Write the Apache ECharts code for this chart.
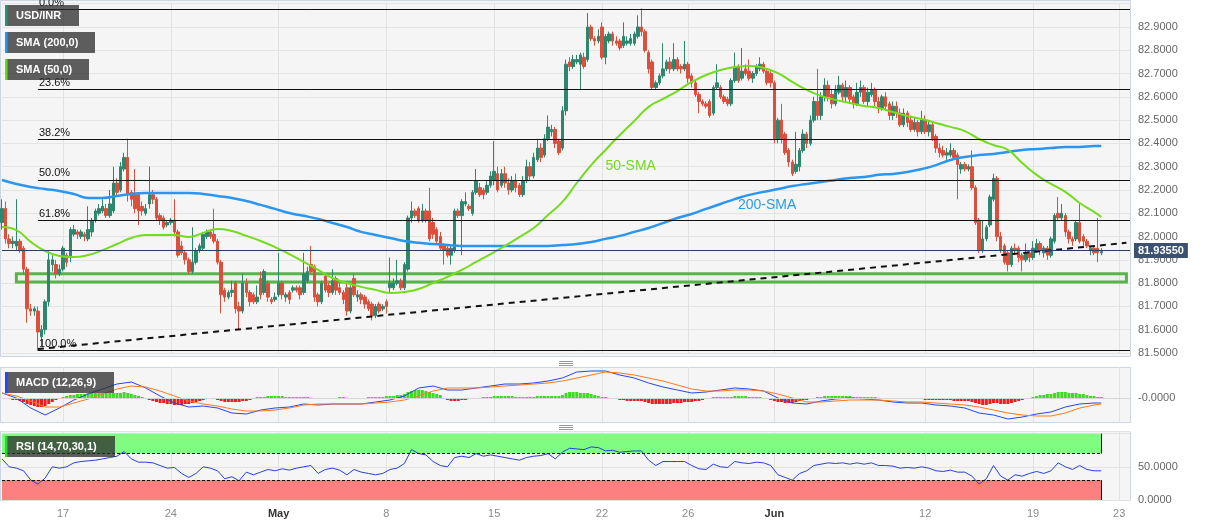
<!DOCTYPE html>
<html><head><meta charset="utf-8">
<script src="https://cdn.jsdelivr.net/npm/echarts@6/dist/echarts.min.js"></script>
<style>html,body{margin:0;padding:0;background:#fff}#c{width:1207px;height:526px}</style>
</head><body><div id="c"></div>
<script>
// [open, close, low, high] per 4H candle
const candles = [
[82.06,82.12,82.03,82.16],[82.12,81.99,81.97,82.15],[81.99,81.97,81.95,82.01],[81.97,81.98,81.95,82.00],[81.96,81.98,81.94,82.16],
[81.98,81.94,81.93,81.99],[81.95,81.86,81.84,81.96],[81.86,81.69,81.63,81.87],[81.69,81.68,81.66,81.71],[81.68,81.69,81.66,81.70],
[81.68,81.59,81.51,81.70],[81.57,81.60,81.53,81.62],[81.60,81.72,81.58,81.73],[81.72,81.90,81.70,81.94],[81.88,81.90,81.85,81.92],
[81.88,81.84,81.82,81.90],[81.84,81.86,81.83,81.88],[81.86,81.95,81.85,81.96],[81.92,81.89,81.87,81.93],[81.91,82.03,81.89,82.04],
[82.01,82.03,82.00,82.05],[82.02,82.01,81.99,82.03],[82.00,82.02,81.99,82.03],[82.01,82.00,81.98,82.02],[81.99,82.03,81.98,82.13],
[82.02,82.07,82.00,82.08],[82.07,82.11,82.06,82.12],[82.10,82.12,82.09,82.14],[82.11,82.13,82.10,82.16],[82.12,82.09,82.08,82.14],
[82.09,82.14,82.08,82.20],[82.11,82.23,82.10,82.30],[82.23,82.19,82.17,82.25],[82.20,82.30,82.19,82.32],[82.29,82.34,82.28,82.36],
[82.34,82.18,82.15,82.42],[82.19,82.16,82.13,82.20],[82.18,82.12,82.10,82.29],[82.18,82.11,82.05,82.19],[82.13,82.11,82.09,82.15],
[82.10,82.12,82.09,82.14],[82.14,82.18,82.12,82.30],[82.18,82.16,82.14,82.20],[82.16,82.08,82.07,82.17],[82.09,82.07,82.05,82.10],
[82.08,82.04,82.03,82.09],[82.05,82.06,82.04,82.07],[82.06,82.07,82.05,82.08],[82.07,82.02,82.00,82.16],[82.02,81.92,81.91,82.03],
[81.96,81.93,81.92,81.98],[81.93,81.90,81.88,81.94],[81.90,81.85,81.84,81.91],[81.85,81.89,81.84,82.04],[81.89,81.94,81.88,81.95],
[81.94,81.96,81.93,81.97],[81.95,82.01,81.94,82.02],[82.00,82.02,81.99,82.03],[82.02,82.00,81.99,82.03],[82.01,81.98,81.97,82.12],
[81.98,81.89,81.88,81.99],[81.89,81.75,81.67,81.90],[81.77,81.74,81.72,81.78],[81.74,81.76,81.73,81.77],[81.76,81.77,81.74,81.81],
[81.80,81.69,81.67,81.81],[81.70,81.68,81.60,81.72],[81.68,81.80,81.67,81.84],[81.80,81.76,81.74,81.82],[81.76,81.72,81.70,81.77],
[81.75,81.72,81.71,81.76],[81.72,81.74,81.71,81.79],[81.82,81.75,81.73,81.85],[81.76,81.85,81.75,81.86],[81.80,81.74,81.72,81.81],
[81.73,81.72,81.71,81.74],[81.73,81.74,81.72,81.76],[81.75,81.80,81.74,81.93],[81.80,81.75,81.73,81.81],[81.74,81.75,81.72,81.76],
[81.76,81.73,81.71,81.77],[81.77,81.78,81.76,81.79],[81.78,81.77,81.76,81.79],[81.78,81.75,81.73,81.79],[81.76,81.84,81.75,81.93],
[81.81,81.85,81.80,81.87],[81.88,81.85,81.84,81.96],[81.87,81.74,81.72,81.88],[81.75,81.72,81.70,81.76],[81.72,81.80,81.71,81.81],
[81.83,81.77,81.76,81.84],[81.79,81.76,81.74,81.80],[81.76,81.81,81.75,81.86],[81.82,81.77,81.75,81.83],[81.78,81.76,81.75,81.80],
[81.76,81.73,81.71,81.77],[81.78,81.68,81.66,81.80],[81.68,81.78,81.67,81.79],[81.82,81.75,81.74,81.84],[81.74,81.75,81.72,81.77],
[81.75,81.73,81.71,81.76],[81.74,81.71,81.69,81.75],[81.72,81.69,81.68,81.73],[81.71,81.66,81.64,81.72],[81.66,81.70,81.65,81.71],
[81.71,81.68,81.67,81.72],[81.69,81.70,81.68,81.71],[81.72,81.70,81.67,81.73],[81.78,81.80,81.76,81.91],[81.78,81.80,81.77,81.82],
[81.80,81.81,81.79,81.90],[81.81,81.78,81.77,81.82],[81.78,81.88,81.77,81.89],[81.86,82.08,81.85,82.09],[82.08,82.11,82.06,82.15],
[82.11,82.09,82.08,82.12],[82.12,82.07,82.06,82.13],[82.07,82.11,82.06,82.14],[82.11,82.07,82.06,82.12],[82.11,81.99,81.98,82.21],
[82.06,82.01,81.99,82.08],[82.03,81.98,81.97,82.04],[82.00,81.95,81.94,82.02],[81.96,81.94,81.88,81.97],[81.95,81.92,81.91,81.96],
[81.92,81.95,81.88,81.96],[81.94,82.11,81.93,82.12],[82.11,82.09,82.08,82.12],[82.09,82.15,81.92,82.16],[82.14,82.15,82.13,82.19],
[82.13,82.12,82.11,82.14],[82.10,82.19,82.09,82.20],[82.19,82.24,82.18,82.29],[82.21,82.18,82.17,82.23],[82.20,82.18,82.16,82.21],
[82.19,82.22,82.18,82.24],[82.22,82.26,82.21,82.28],[82.24,82.28,82.22,82.41],[82.27,82.20,82.19,82.30],[82.22,82.27,82.21,82.29],
[82.27,82.23,82.21,82.30],[82.23,82.20,82.18,82.25],[82.20,82.24,82.19,82.26],[82.24,82.21,82.19,82.27],[82.22,82.18,82.17,82.23],
[82.18,82.24,82.17,82.26],[82.24,82.30,82.23,82.33],[82.30,82.26,82.24,82.32],[82.26,82.34,82.25,82.36],[82.33,82.38,82.32,82.42],
[82.38,82.34,82.32,82.40],[82.35,82.42,82.34,82.44],[82.42,82.47,82.41,82.52],[82.45,82.46,82.43,82.48],[82.46,82.40,82.38,82.47],
[82.41,82.36,82.35,82.42],[82.38,82.54,82.37,82.56],[82.54,82.74,82.52,82.76],[82.75,82.73,82.71,82.77],[82.73,82.76,82.72,82.78],
[82.75,82.76,82.74,82.78],[82.74,82.78,82.63,82.79],[82.77,82.73,82.72,82.79],[82.76,82.90,82.75,82.96],[82.90,82.85,82.84,82.91],
[82.85,82.84,82.82,82.86],[82.84,82.86,82.83,82.89],[82.90,82.77,82.76,82.92],[82.77,82.86,82.74,82.87],[82.84,82.87,82.83,82.88],
[82.87,82.84,82.82,82.88],[82.84,82.83,82.82,82.86],[82.84,82.81,82.80,82.85],[82.82,82.86,82.81,82.92],[82.83,82.84,82.82,82.86],
[82.83,82.85,82.82,82.87],[82.83,82.87,82.82,82.88],[82.86,82.90,82.85,82.95],[82.90,82.88,82.86,82.98],[82.88,82.80,82.79,82.89],
[82.79,82.72,82.70,82.80],[82.75,82.64,82.63,82.76],[82.64,82.66,82.63,82.67],[82.66,82.69,82.65,82.70],[82.69,82.72,82.68,82.83],
[82.72,82.75,82.71,82.76],[82.75,82.72,82.70,82.77],[82.72,82.76,82.71,82.83],[82.76,82.72,82.71,82.77],[82.73,82.72,82.70,82.74],
[82.72,82.74,82.71,82.84],[82.74,82.68,82.66,82.75],[82.69,82.66,82.64,82.70],[82.66,82.61,82.60,82.67],[82.61,82.58,82.53,82.62],
[82.58,82.57,82.56,82.59],[82.57,82.56,82.55,82.58],[82.58,82.52,82.51,82.59],[82.53,82.64,82.52,82.65],[82.64,82.66,82.63,82.74],
[82.64,82.60,82.59,82.65],[82.60,82.58,82.57,82.61],[82.59,82.57,82.56,82.60],[82.57,82.67,82.56,82.68],[82.67,82.73,82.66,82.79],
[82.73,82.67,82.66,82.74],[82.68,82.71,82.67,82.81],[82.72,82.70,82.69,82.74],[82.71,82.68,82.67,82.76],[82.68,82.70,82.66,82.71],
[82.70,82.73,82.69,82.74],[82.72,82.74,82.71,82.77],[82.74,82.71,82.70,82.75],[82.71,82.66,82.65,82.72],[82.70,82.66,82.64,82.71],
[82.66,82.42,82.40,82.67],[82.42,82.50,82.40,82.51],[82.50,82.42,82.40,82.57],[82.44,82.36,82.35,82.45],[82.37,82.32,82.30,82.38],
[82.32,82.27,82.26,82.33],[82.28,82.31,82.27,82.45],[82.30,82.37,82.28,82.38],[82.37,82.44,82.36,82.46],[82.44,82.40,82.38,82.45],
[82.40,82.50,82.39,82.52],[82.50,82.58,82.49,82.60],[82.58,82.52,82.50,82.72],[82.52,82.60,82.50,82.62],[82.60,82.65,82.58,82.68],
[82.65,82.60,82.58,82.67],[82.61,82.57,82.55,82.63],[82.57,82.63,82.56,82.65],[82.62,82.65,82.61,82.69],[82.65,82.60,82.58,82.66],
[82.60,82.64,82.58,82.67],[82.64,82.59,82.57,82.65],[82.60,82.57,82.55,82.61],[82.57,82.62,82.56,82.66],[82.62,82.64,82.60,82.67],
[82.64,82.58,82.57,82.65],[82.58,82.62,82.56,82.64],[82.61,82.63,82.60,82.66],[82.63,82.58,82.56,82.64],[82.58,82.55,82.53,82.60],
[82.55,82.60,82.54,82.61],[82.60,82.56,82.54,82.62],[82.57,82.52,82.50,82.58],[82.52,82.56,82.50,82.58],[82.56,82.53,82.51,82.58],
[82.53,82.48,82.47,82.55],[82.48,82.53,82.47,82.55],[82.53,82.49,82.47,82.54],[82.50,82.46,82.45,82.52],[82.46,82.49,82.45,82.51],
[82.49,82.45,82.43,82.50],[82.45,82.50,82.44,82.54],[82.50,82.45,82.44,82.52],[82.45,82.48,82.43,82.50],[82.48,82.42,82.41,82.49],
[82.43,82.38,82.36,82.44],[82.38,82.36,82.34,82.40],[82.37,82.35,82.34,82.39],[82.35,82.36,82.33,82.38],[82.35,82.37,82.34,82.40],
[82.37,82.34,82.33,82.38],[82.35,82.31,82.16,82.36],[82.29,82.31,82.27,82.32],[82.31,82.29,82.28,82.32],[82.29,82.30,82.28,82.31],
[82.30,82.21,82.20,82.37],[82.21,82.06,82.05,82.22],[82.07,81.94,81.93,82.08],[81.94,81.99,81.93,82.07],[81.99,82.04,81.98,82.05],
[82.05,82.17,82.04,82.18],[82.16,82.25,82.15,82.27],[82.25,82.00,81.98,82.26],[82.00,81.94,81.93,82.02],[81.96,81.89,81.88,81.97],
[81.93,81.88,81.85,81.94],[81.88,81.95,81.87,81.96],[81.95,81.94,81.92,81.97],[81.95,81.91,81.89,81.96],[81.92,81.90,81.85,81.93],
[81.90,81.93,81.89,81.97],[81.93,81.91,81.89,81.94],[81.91,81.95,81.90,81.98],[81.94,81.97,81.93,81.99],[81.97,81.94,81.92,81.98],
[81.93,81.95,81.91,81.96],[81.95,81.92,81.90,81.96],[81.92,81.99,81.91,82.00],[81.98,82.09,81.97,82.10],[82.10,82.08,82.07,82.17],
[82.08,82.10,82.07,82.14],[82.09,82.02,82.00,82.10],[82.02,81.99,81.97,82.03],[81.99,81.98,81.96,82.00],[81.99,82.06,81.98,82.07],
[82.06,81.98,81.97,82.14],[82.00,81.98,81.96,82.01],[81.98,81.96,81.95,81.99],[81.94,81.95,81.92,81.96],[81.95,81.93,81.92,81.96],
[81.95,81.93,81.89,82.08],[81.93,81.9355,81.92,81.95]
];
// SMA values sampled every 4 candles (last = final candle)
const sma200 = [
82.243,82.226,82.213,82.204,82.196,82.183,82.166,82.166,82.174,82.183,
82.187,82.187,82.187,82.187,82.183,82.174,82.166,82.153,82.136,82.119,
82.101,82.089,82.076,82.058,82.041,82.020,82.007,81.994,81.981,81.973,
81.968,81.964,81.960,81.960,81.960,81.960,81.960,81.960,81.960,81.964,
81.968,81.977,81.990,82.003,82.020,82.037,82.058,82.080,82.097,82.119,
82.140,82.161,82.179,82.192,82.204,82.217,82.226,82.234,82.243,82.252,
82.256,82.265,82.269,82.277,82.290,82.307,82.329,82.342,82.350,82.355,
82.363,82.372,82.376,82.380,82.385,82.385,82.389,82.389];
const sma50 = [
82.041,82.028,81.977,81.938,81.917,81.912,81.921,81.942,81.968,81.994,
82.007,82.007,82.007,81.998,82.016,82.033,82.024,82.003,81.981,81.955,
81.925,81.891,81.857,81.822,81.801,81.784,81.771,81.758,81.762,81.775,
81.801,81.827,81.857,81.891,81.925,81.960,81.998,82.037,82.093,82.149,
82.230,82.307,82.372,82.436,82.496,82.557,82.591,82.625,82.664,82.694,
82.715,82.728,82.733,82.724,82.702,82.664,82.630,82.604,82.587,82.574,
82.561,82.552,82.535,82.518,82.505,82.488,82.471,82.453,82.419,82.393,
82.372,82.316,82.265,82.226,82.192,82.144,82.106,82.084];
// MACD (thousandths), sampled every 4 candles
const macdLine = [
25,0,-50,-85,-50,-10,20,45,70,80,
50,10,-25,-45,-40,-50,-75,-80,-60,-50,
-45,-30,-35,-30,-30,-30,-20,-10,10,50,
60,40,40,50,60,70,70,75,85,100,
130,135,135,115,100,75,55,40,25,30,
40,50,45,35,0,-25,-30,-15,-5,0,
-5,-10,-20,-25,-25,-35,-40,-50,-75,-85,
-105,-95,-80,-70,-45,-30,-25,-25];
const signalLine = [
25,10,-15,-45,-45,-25,-5,20,45,60,
55,35,10,-15,-30,-40,-55,-65,-65,-60,
-50,-35,-30,-30,-30,-30,-25,-20,-10,10,
35,50,50,50,55,60,65,70,75,85,
100,115,130,125,115,100,85,65,45,35,
35,40,40,35,20,0,-20,-20,-15,-10,
-10,-10,-15,-20,-20,-25,-30,-35,-45,-60,
-75,-85,-90,-90,-75,-50,-35,-30];
// histogram per candle (thousandths)
const macdHist = [
0,-5,-5,-10,-10,-15,-20,-30,-35,-40,-45,-45,-40,-30,-20,-10,-5,
5,10,15,15,20,20,20,25,25,25,25,25,25,25,25,25,25,30,25,20,15,10,5,
-5,-10,-15,-20,-25,-25,-30,-30,-35,-35,-35,-30,-30,-25,-20,-15,-10,-5,0,
-5,-10,-15,-20,-20,-20,-20,-20,-15,-15,-10,-5,
5,5,5,10,10,10,10,10,5,5,5,5,5,
5,5,0,0,-5,-5,-5,-5,0,0,5,5,
0,-5,-5,-5,0,0,5,5,5,5,5,10,
10,10,15,15,20,30,35,40,40,40,35,30,25,20,15,
-5,-10,-15,-15,-15,-10,-10,-5,-5,0,0,
5,5,5,10,10,10,10,10,10,5,5,5,5,5,5,10,10,10,10,10,10,10,
15,25,30,30,30,25,25,25,20,15,10,5,5,0,
-5,-5,-10,-10,-15,-15,-15,-15,-15,-20,-25,-30,-30,-30,-30,-30,-30,-25,-25,-25,-20,-20,-20,-15,-15,-10,-5,
0,5,5,5,5,5,5,10,10,10,10,5,5,5,5,0,
-5,-10,-15,-20,-20,-25,-25,-25,-20,-15,-10,-10,-5,0,
5,5,10,10,10,10,10,10,10,10,5,5,5,5,5,5,5,0,0,0,0,-5,-5,-5,-5,-5,
-5,-5,-5,-5,-10,-10,-10,-10,-10,-10,-10,-10,
-15,-15,-15,-15,-15,-20,-25,-30,-35,-35,-30,-25,-25,-30,-30,-30,-25,-20,-15,-10,-5,-5,
5,10,15,15,20,20,25,30,30,30,25,25,25,20,20,15,10,10,5,5];
// RSI every 2 candles
const rsi = [
62,50,48,44,30,24,33,50,48,50,56,58,59,60,62,64,66,73,62,57,
57,56,52,48,49,40,34,40,50,48,44,32,35,29,42,38,42,46,44,47,
45,48,50,52,40,46,48,45,38,46,42,40,38,40,46,48,55,76,70,68,
58,52,50,64,66,64,70,66,68,66,64,62,60,64,66,67,70,62,72,78,
77,76,80,79,74,75,72,73,74,74,60,52,58,58,58,58,52,47,46,54,
50,49,58,56,55,57,56,52,38,34,30,40,44,52,54,56,55,56,54,56,
54,56,52,52,51,48,49,48,50,48,44,43,45,42,42,36,24,32,52,36,
30,38,36,40,43,40,44,56,50,46,52,46,44,44];

const labelIdx = [17,47,77,107,137,167,191,215,257,287,311];
const labelText = ['17','24','May','8','15','22','26','Jun','12','19','23'];
const fibHigh = 82.977, fibLow = 81.51;
const fibLevels = [0, 23.6, 38.2, 50, 61.8, 100];
const fibStart = 10, fibEnd = 314;
const resistLine = [[175, 83.003], [313, 82.192]];
const supportLine = [[10, 81.517], [313, 81.973]];
const zone = [[4, 81.84], [313, 81.805]];
const lastPrice = 81.9355;
const sma50Note = [175, 82.303], sma200Note = [213, 82.136];

const SLOTS = 315;
const cats = Array.from({length: SLOTS}, (_, i) => String(i));
const lastIdx = candles.length - 1;
const step4 = (arr) => arr.map((v, i) => [Math.min(i * 4, lastIdx), v]);
const FONT = "'Liberation Sans', Arial, sans-serif";

const fibLines = fibLevels.map(l => {
  const p = fibHigh - (fibHigh - fibLow) * l / 100;
  return [{coord: [fibStart, p], lineStyle: {color: '#111', width: 1, type: 'solid'},
           label: {show: true, position: 'insideStartTop', formatter: l.toFixed(1) + '%', color: '#111', fontSize: 11, fontFamily: FONT, distance: 1}},
          {coord: [fibEnd, p]}];
});

const chart = echarts.init(document.getElementById('c'));
const xAxisBase = (gi, showLabel) => ({
  type: 'category', data: cats, gridIndex: gi, boundaryGap: false,
  axisLine: {show: false}, axisTick: {show: false},
  splitLine: {show: true, interval: (i) => labelIdx.includes(i), lineStyle: {color: '#e2e2e2', width: 1}},
  axisLabel: {show: showLabel, interval: (i) => labelIdx.includes(i), fontSize: 11, color: '#8a8a8a', margin: 8, fontFamily: FONT,
    formatter: (v) => { const k = labelIdx.indexOf(Number(v)); if (k < 0) return ''; const t = labelText[k]; return (t === 'May' || t === 'Jun') ? '{b|' + t + '}' : t; },
    rich: {b: {fontWeight: 'bold', color: '#333', fontSize: 11, fontFamily: FONT}}}
});
const tag = (x, y, w, text, stripe) => ([
  {type: 'rect', shape: {x: x, y: y, width: w, height: 21}, style: {fill: 'rgba(45,45,45,0.76)'}, z: 100, silent: true},
  {type: 'rect', shape: {x: x, y: y, width: 2.5, height: 21}, style: {fill: stripe}, z: 101, silent: true},
  {type: 'text', x: x + 11, y: y + 11, style: {text: text, fill: '#fff', font: 'bold 11px ' + FONT, verticalAlign: 'middle'}, z: 101, silent: true}
]);
const handle = (cy) => [-2, 0, 2].map(d => ({type: 'line', shape: {x1: 559, y1: cy + d + 0.5, x2: 573, y2: cy + d + 0.5}, style: {stroke: '#9a9a9a', lineWidth: 1}, z: 5, silent: true}));
const panels = [[0, 0, 1130, 356], [0, 367, 1130, 55], [0, 431, 1130, 69]];

chart.setOption({
  animation: false,
  textStyle: {fontFamily: FONT},
  grid: [
    {left: 2, width: 1128, top: 3.7, height: 349.3},
    {left: 2, width: 1128, top: 367, height: 55},
    {left: 2, width: 1128, top: 431, height: 69}
  ],
  xAxis: [xAxisBase(0, false), xAxisBase(1, false), xAxisBase(2, true)],
  yAxis: [
    {type: 'value', gridIndex: 0, position: 'right', min: 81.5, max: 83.0, interval: 0.1, scale: true,
     axisLine: {show: false}, axisTick: {show: false}, splitLine: {lineStyle: {color: '#e4e4e4'}},
     axisLabel: {fontSize: 11, color: '#666', margin: 8, formatter: v => v > 82.95 ? '' : v.toFixed(4)}},
    {type: 'value', gridIndex: 1, position: 'right', min: -0.12, max: 0.155, interval: 0.12,
     axisLine: {show: false}, axisTick: {show: false}, splitLine: {show: false},
     axisLabel: {fontSize: 11, color: '#666', margin: 8, formatter: v => Math.abs(v) < 1e-6 ? '-0.0000' : ''}},
    {type: 'value', gridIndex: 2, position: 'right', min: 0, max: 104, interval: 50,
     axisLine: {show: false}, axisTick: {show: false}, splitLine: {lineStyle: {color: '#e2e2e2'}},
     axisLabel: {fontSize: 11, color: '#666', margin: 8, formatter: v => v > 99 ? '' : v.toFixed(4)}}
  ],
  graphic: [
    ...panels.map(p => ({type: 'rect', shape: {x: p[0] + 0.5, y: p[1] + 0.5, width: p[2], height: p[3]}, style: {fill: '#f5f5f5', stroke: '#cdd5e2', lineWidth: 1}, z: -10, silent: true})),
    ...tag(5, 5, 74, 'USD/INR', '#2a8f7c'),
    ...tag(5, 32, 90, 'SMA (200,0)', '#2196f3'),
    ...tag(5, 59, 84, 'SMA (50,0)', '#66dd11'),
    ...tag(5, 372, 109, 'MACD (12,26,9)', '#2244ff'),
    ...tag(5, 436, 110, 'RSI (14,70,30,1)', '#22dd22'),
    ...handle(363), ...handle(427)
  ],
  series: [
    {type: 'candlestick', xAxisIndex: 0, yAxisIndex: 0, data: candles, barWidth: 3,
     itemStyle: {color: '#2d876e', color0: '#dc4f3c', borderColor: '#2d876e', borderColor0: '#dc4f3c', borderWidth: 1},
     markArea: {silent: true, label: {show: false},
       data: [[{coord: zone[0], itemStyle: {color: 'rgba(92,184,92,0.05)', borderColor: '#58b44a', borderWidth: 3}}, {coord: zone[1]}]]},
     markLine: {silent: true, symbol: ['none', 'none'], animation: false,
       data: [
         ...fibLines,
         [{coord: resistLine[0], lineStyle: {color: '#ff9c0a', width: 2.5, type: 'solid'}, label: {show: false}}, {coord: resistLine[1]}],
         [{coord: supportLine[0], lineStyle: {color: '#111', width: 2, type: [6, 5]}, label: {show: false}}, {coord: supportLine[1]}],
         {yAxis: lastPrice, lineStyle: {color: '#2e3f5e', width: 1, type: 'solid'},
          label: {show: true, position: 'end', formatter: lastPrice.toFixed(5), backgroundColor: '#3c5070', color: '#fff',
                  fontWeight: 'bold', fontSize: 11, padding: [2, 4, 2, 4], distance: 4, fontFamily: FONT}}
       ]}},
    {type: 'line', name: 'SMA200', xAxisIndex: 0, yAxisIndex: 0, data: step4(sma200), smooth: true, showSymbol: false,
     lineStyle: {color: '#2b96ef', width: 2.5}, z: 3,
     markPoint: {silent: true, symbol: 'rect', symbolSize: 1, itemStyle: {color: 'rgba(0,0,0,0)'},
       data: [{coord: sma200Note, label: {show: true, position: 'inside', formatter: '200-SMA', color: '#2b9be8', fontSize: 14, fontFamily: FONT}}]}},
    {type: 'line', name: 'SMA50', xAxisIndex: 0, yAxisIndex: 0, data: step4(sma50), smooth: true, showSymbol: false,
     lineStyle: {color: '#74dc1c', width: 2}, z: 3,
     markPoint: {silent: true, symbol: 'rect', symbolSize: 1, itemStyle: {color: 'rgba(0,0,0,0)'},
       data: [{coord: sma50Note, label: {show: true, position: 'inside', formatter: '50-SMA', color: '#74d81e', fontSize: 14, fontFamily: FONT}}]}},
    {type: 'bar', xAxisIndex: 1, yAxisIndex: 1, data: macdHist.map(v => v / 1000), barWidth: 3,
     itemStyle: {color: p => p.value >= 0 ? '#3ade1e' : '#ee1c1c'},
     markLine: {silent: true, symbol: ['none', 'none'], label: {show: false}, lineStyle: {color: '#d6d6d6', width: 1, type: 'solid'}, data: [{yAxis: 0}]}},
    {type: 'line', xAxisIndex: 1, yAxisIndex: 1, data: step4(macdLine.map(v => v / 1000)), showSymbol: false, lineStyle: {color: '#2448f0', width: 1}},
    {type: 'line', xAxisIndex: 1, yAxisIndex: 1, data: step4(signalLine.map(v => v / 1000)), showSymbol: false, lineStyle: {color: '#ff7b1c', width: 1}},
    {type: 'line', xAxisIndex: 2, yAxisIndex: 2, data: rsi.map((v, i) => [i * 2, v]), showSymbol: false, lineStyle: {color: '#2a40dd', width: 1}, z: 4,
     markArea: {silent: true, label: {show: false},
       data: [[{coord: [0, 100], itemStyle: {color: '#80fc80'}}, {coord: [lastIdx, 70]}],
              [{coord: [0, 30], itemStyle: {color: '#fc8080'}}, {coord: [lastIdx, 0]}]]},
     markLine: {silent: true, symbol: ['none', 'none'], label: {show: false},
       data: [
         [{coord: [0, 70], lineStyle: {color: '#111', width: 1, type: [3, 2]}}, {coord: [lastIdx, 70]}],
         [{coord: [0, 30], lineStyle: {color: '#111', width: 1, type: [3, 2]}}, {coord: [lastIdx, 30]}],
         [{coord: [lastIdx, 70], lineStyle: {color: '#111', width: 1, type: 'solid'}}, {coord: [lastIdx, 100]}],
         [{coord: [lastIdx, 0], lineStyle: {color: '#111', width: 1, type: 'solid'}}, {coord: [lastIdx, 30]}]
       ]}}
  ]
});
</script>
</body></html>
